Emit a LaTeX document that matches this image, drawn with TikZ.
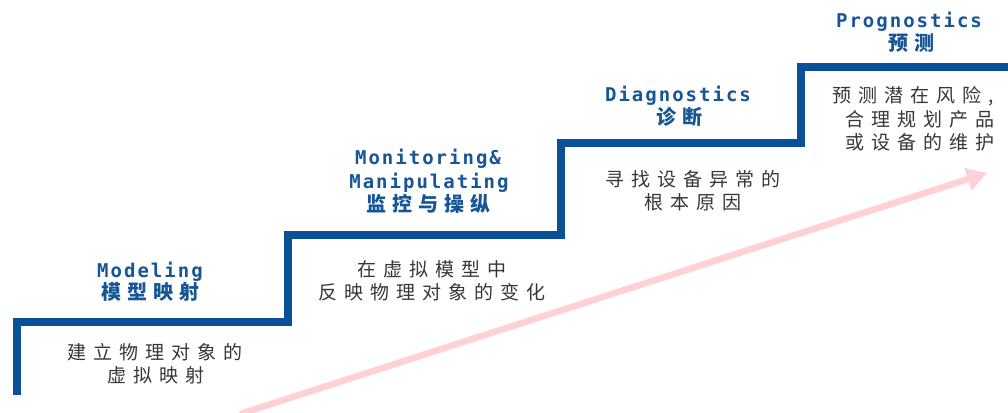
\documentclass[tikz,border=0pt]{standalone}
\usepackage{fontspec}
\usetikzlibrary{arrows.meta}
\newfontfamily\cjk{Noto Sans CJK SC}
\newfontfamily\mono{DejaVu Sans Mono}
\definecolor{stair}{RGB}{10,80,152}
\definecolor{titleblue}{RGB}{22,86,150}
\definecolor{descgray}{RGB}{55,55,55}
\definecolor{arrowpink}{RGB}{255,208,212}
\def\spcamt{7pt}
\def\spc#1{\spcfirst#1\relax}
\def\spcfirst#1{#1\spcaux}
\def\spcaux#1{\ifx#1\relax\else\kern\spcamt #1\expandafter\spcaux\fi}
\tikzset{
  en/.style={inner sep=0pt, anchor=base, text=titleblue, font=\mono\bfseries\fontsize{19}{19}\selectfont\def\spcamt{2pt}},
  zh/.style={inner sep=0pt, anchor=base, text=titleblue, font=\cjk\bfseries\fontsize{20}{20}\selectfont\def\spcamt{6pt}},
  ds/.style={inner sep=0pt, anchor=base, text=descgray, font=\cjk\fontsize{19}{19}\selectfont\def\spcamt{7pt}},
  stairline/.style={draw=stair, line width=7.5pt, line join=miter},
  growth/.style={draw=arrowpink, line width=6.5pt, -{Triangle[length=20pt,width=22pt]}}
}
\begin{document}
\begin{tikzpicture}[x=1pt,y=-1pt]
\useasboundingbox (0,0) rectangle (1008,412);
\fill[white] (0,0) rectangle (1008,412);
% growth arrow
\coordinate (a0) at (240,414);
\coordinate (a1) at (987,173);
\draw[growth] (a0) -- (a1);
% staircase
\coordinate (s0) at (17,395);
\coordinate (s1) at (17,322);
\coordinate (s2) at (288,322);
\coordinate (s3) at (288,235);
\coordinate (s4) at (561,235);
\coordinate (s5) at (561,143);
\coordinate (s6) at (801,143);
\coordinate (s7) at (801,67);
\coordinate (s8) at (1012,67);
\draw[stairline] (s0) -- (s1) -- (s2) -- (s3) -- (s4) -- (s5) -- (s6) -- (s7) -- (s8);
% step 1
\node[en] (m1) at (150,277) {\spc{Modeling}};
\node[zh] (m2) at (150,299) {\spc{模型映射}};
\node[ds] (m3) at (155,359) {\spc{建立物理对象的}};
\node[ds] (m4) at (156,382) {\spc{虚拟映射}};
% step 2
\node[en] (n1) at (428,164) {\spc{Monitoring\&}};
\node[en] (n2) at (429,188) {\spc{Manipulating}};
\node[zh] (n3) at (428,211) {\spc{监控与操纵}};
\node[ds] (n4) at (432,276) {\spc{在虚拟模型中}};
\node[ds] (n5) at (432,299) {\spc{反映物理对象的变化}};
% step 3
\node[en] (d1) at (678,101) {\spc{Diagnostics}};
\node[zh] (d2) at (679,124) {\spc{诊断}};
\node[ds] (d3) at (693,186) {\spc{寻找设备异常的}};
\node[ds] (d4) at (693,209) {\spc{根本原因}};
% step 4
\node[en] (p1) at (909,28) {\spc{Prognostics}};
\node[zh] (p2) at (911,51) {\spc{预测}};
\node[ds, anchor=base west] (p3) at (832,102) {\spc{预测潜在风险,}};
\node[ds, anchor=base west] (p4) at (845,126) {\spc{合理规划产品}};
\node[ds, anchor=base west] (p5) at (845,149) {\spc{或设备的维护}};
\end{tikzpicture}
\end{document}
